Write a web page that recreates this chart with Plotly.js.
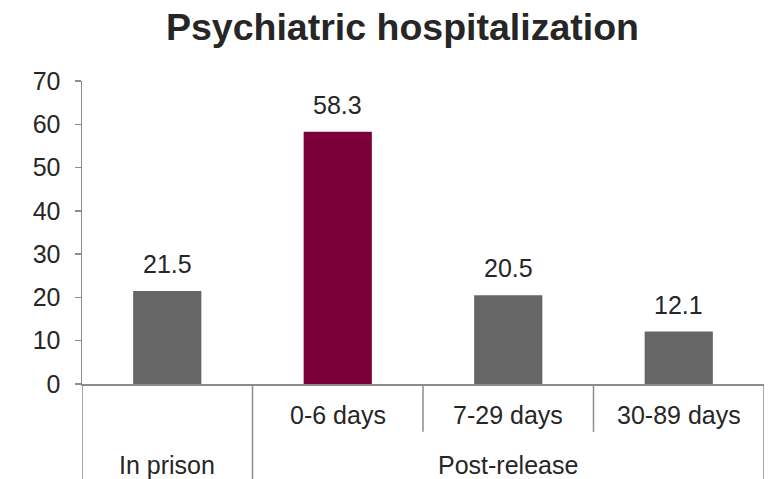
<!DOCTYPE html>
<html>
<head>
<meta charset="utf-8">
<script src="https://cdn.plot.ly/plotly-3.0.1.min.js"></script>
<style>html,body{margin:0;padding:0;background:#fff;}#chart{width:774px;height:479px;}</style>
</head>
<body>
<div id="chart"></div>
<script>
const categories = ["In prison", "0-6 days", "7-29 days", "30-89 days"];
const innerLabels = ["", "0-6 days", "7-29 days", "30-89 days"];
const groupLabels = ["In prison", "Post-release"];
const groupCenters = [0, 2];
const values = [21.5, 58.3, 20.5, 12.1];
const valueLabels = ["21.5", "58.3", "20.5", "12.1"];
const yTicks = [0, 10, 20, 30, 40, 50, 60, 70];

const GRAY = "#666666", MAROON = "#7B003A", AXIS = "#8c8c8c", TXT = "#262626";
const colors = categories.map((c, i) => i === 1 ? MAROON : GRAY);
const FONT = "Liberation Sans, Arial, sans-serif";

const trace = {
  type: "bar",
  x: categories,
  y: values,
  width: 0.4,
  marker: {color: colors, line: {width: 0}},
  hoverinfo: "none"
};

const annotations = [];
categories.forEach((c, i) => {
  annotations.push({x: c, y: values[i], xref: "x", yref: "y", text: valueLabels[i],
    showarrow: false, yanchor: "bottom", yshift: 11, font: {family: FONT, size: 25, color: TXT}});
  if (innerLabels[i]) {
    annotations.push({x: c, y: -0.102, xref: "x", yref: "paper", text: innerLabels[i],
      showarrow: false, yanchor: "middle", font: {family: FONT, size: 25, color: TXT}});
  }
});
groupLabels.forEach((g, i) => {
  annotations.push({x: groupCenters[i], y: -0.267, xref: "x", yref: "paper", text: g,
    showarrow: false, yanchor: "middle", font: {family: FONT, size: 25, color: TXT}});
});

const BOTTOM = -0.32, INNER = -0.158;
const seps = [[-0.5, BOTTOM], [0.5, BOTTOM], [1.5, INNER], [2.5, INNER], [3.5, BOTTOM]];
const shapes = seps.map(s => ({type: "line", xref: "x", yref: "paper", x0: s[0], x1: s[0], y0: 0, y1: s[1],
  line: {color: AXIS, width: 1.5}}));

const layout = {
  width: 774, height: 479,
  margin: {l: 82, r: 10, t: 81, b: 95},
  paper_bgcolor: "#fff", plot_bgcolor: "#fff",
  showlegend: false,
  title: {text: "<b>Psychiatric hospitalization</b>", x: 0.52, xanchor: "center", xref: "container",
    y: 0.944, yanchor: "middle", yref: "container",
    font: {family: FONT, size: 37.5, color: TXT}},
  xaxis: {type: "category", range: [-0.5, 3.5], showticklabels: false, ticks: "",
    showline: true, linecolor: AXIS, linewidth: 1.5, showgrid: false, zeroline: false, fixedrange: true},
  yaxis: {range: [0, 70], tickvals: yTicks, ticktext: yTicks.map(String), ticks: "outside", ticklen: 6,
    tickcolor: AXIS, tickwidth: 1.5, showline: true, linecolor: AXIS, linewidth: 1.5,
    showgrid: false, zeroline: false, ticklabelstandoff: 9,
    tickfont: {family: FONT, size: 25, color: TXT}, fixedrange: true},
  annotations: annotations,
  shapes: shapes
};

Plotly.newPlot("chart", [trace], layout, {staticPlot: true, displayModeBar: false});
</script>
</body>
</html>
